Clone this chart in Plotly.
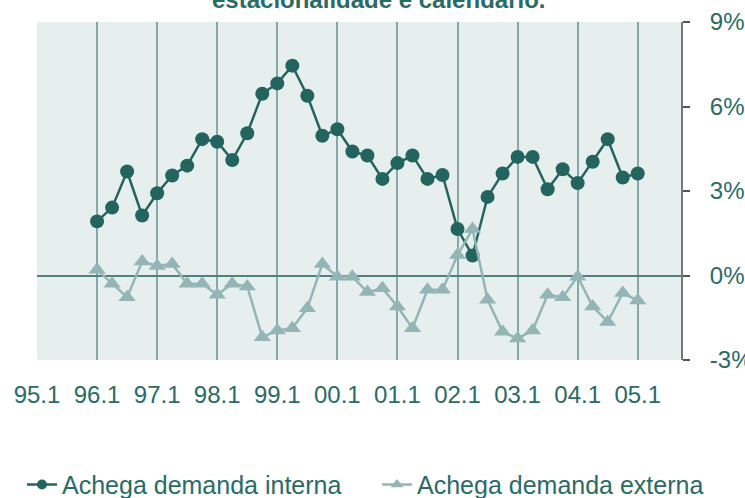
import plotly.graph_objects as go

# Quarter labels (year.quarter) for both series, 96.1 .. 05.1
quarters = [
    "96.1", "96.2", "96.3", "96.4",
    "97.1", "97.2", "97.3", "97.4",
    "98.1", "98.2", "98.3", "98.4",
    "99.1", "99.2", "99.3", "99.4",
    "00.1", "00.2", "00.3", "00.4",
    "01.1", "01.2", "01.3", "01.4",
    "02.1", "02.2", "02.3", "02.4",
    "03.1", "03.2", "03.3", "03.4",
    "04.1", "04.2", "04.3", "04.4",
    "05.1",
]

demanda_interna = [
    1.92, 2.41, 3.69, 2.13,
    2.92, 3.55, 3.90, 4.84,
    4.75, 4.10, 5.05, 6.45,
    6.82, 7.45, 6.38, 4.96,
    5.19, 4.40, 4.26, 3.43,
    3.99, 4.26, 3.43, 3.57,
    1.65, 0.71, 2.79, 3.62,
    4.21, 4.21, 3.06, 3.77,
    3.28, 4.04, 4.84, 3.48,
    3.62,
]

demanda_externa = [
    0.20, -0.29, -0.77, 0.50,
    0.34, 0.41, -0.29, -0.29,
    -0.68, -0.29, -0.39, -2.19,
    -1.95, -1.87, -1.16, 0.41,
    -0.04, -0.04, -0.59, -0.45,
    -1.10, -1.87, -0.51, -0.51,
    0.73, 1.65, -0.86, -2.00,
    -2.24, -1.95, -0.68, -0.77,
    -0.04, -1.10, -1.65, -0.62,
    -0.89,
]

series_names = ["Achega demanda interna", "Achega demanda externa"]
tick_labels = ["95.1", "96.1", "97.1", "98.1", "99.1", "00.1",
               "01.1", "02.1", "03.1", "04.1", "05.1"]
y_ticks = [-3, 0, 3, 6, 9]


def to_num(label):
    yy, q = label.split(".")
    yy = int(yy)
    year = 1900 + yy if yy > 50 else 2000 + yy
    return year + (int(q) - 1) / 4.0


x_vals = [to_num(q) for q in quarters]
tick_vals = [to_num(t) for t in tick_labels]

DARK = "#23645F"
LIGHT = "#93B5B5"
TEXT = "#2A6B67"
FONT = "Liberation Sans, Arial, sans-serif"

fig = go.Figure()
# data traces
fig.add_trace(go.Scatter(
    x=x_vals, y=demanda_interna, mode="lines+markers",
    name=series_names[0], showlegend=False,
    line=dict(color=DARK, width=2.5),
    marker=dict(symbol="circle", size=14, color=DARK),
))
fig.add_trace(go.Scatter(
    x=x_vals, y=demanda_externa, mode="lines+markers",
    name=series_names[1], showlegend=False,
    line=dict(color=LIGHT, width=2.5),
    marker=dict(symbol="triangle-up", size=15, color=LIGHT),
))
# legend entries (smaller legend markers, as in the reference)
fig.add_trace(go.Scatter(
    x=[None], y=[None], mode="lines+markers", name=series_names[0],
    line=dict(color=DARK, width=2.5), legend="legend",
    marker=dict(symbol="circle", size=10, color=DARK),
))
fig.add_trace(go.Scatter(
    x=[None], y=[None], mode="lines+markers", name=series_names[1],
    line=dict(color=LIGHT, width=2.5), legend="legend2",
    marker=dict(symbol="triangle-up", size=11, color=LIGHT),
))

legend_style = dict(orientation="h", xanchor="left", y=-0.301, yanchor="top",
                    font=dict(size=25, color=TEXT), bgcolor="rgba(0,0,0,0)",
                    itemsizing="trace")

fig.update_layout(
    width=745, height=498,
    margin=dict(l=37, r=64, t=22, b=138, pad=0, autoexpand=False),
    paper_bgcolor="white",
    plot_bgcolor="#E6EFEE",
    font=dict(family=FONT, size=24, color=TEXT),
    showlegend=True,
    legend=dict(x=-0.0233, **legend_style),
    legend2=dict(x=0.528, **legend_style),
    annotations=[dict(
        text="<b>estacionalidade e calendario.</b>",
        xref="paper", yref="paper", x=0.53, y=1.02, xanchor="center", yanchor="bottom",
        showarrow=False, font=dict(size=24, color=TEXT, family=FONT),
    )],
)
fig.update_xaxes(
    range=[1995, 2005.72], automargin=False,
    tickmode="array", tickvals=tick_vals, ticktext=tick_labels,
    showgrid=True, gridcolor="#86A9A8", gridwidth=1.5,
    showline=False, zeroline=False, ticks="",
    ticklabelstandoff=18,
    tickfont=dict(size=24, color=TEXT),
)
fig.update_yaxes(
    range=[-3, 9], side="right", automargin=False,
    tickmode="array", tickvals=y_ticks, ticktext=[f"{v}%" for v in y_ticks],
    showgrid=False, zeroline=True, zerolinecolor="#4E8280", zerolinewidth=1.5,
    showline=True, linecolor="#777777", linewidth=2,
    ticks="outside", ticklen=7, tickcolor="#555555", tickwidth=1.5,
    ticklabelstandoff=15,
    tickfont=dict(size=24, color=TEXT),
)

fig.write_html("out.html", config={"displayModeBar": False})

# remove the browser's default 8px body margin so the figure fills the window
with open("out.html", "r", encoding="utf-8") as f:
    html = f.read()
html = html.replace("<head>", "<head><style>html,body{margin:0;padding:0;overflow:hidden;}</style>", 1)
with open("out.html", "w", encoding="utf-8") as f:
    f.write(html)
